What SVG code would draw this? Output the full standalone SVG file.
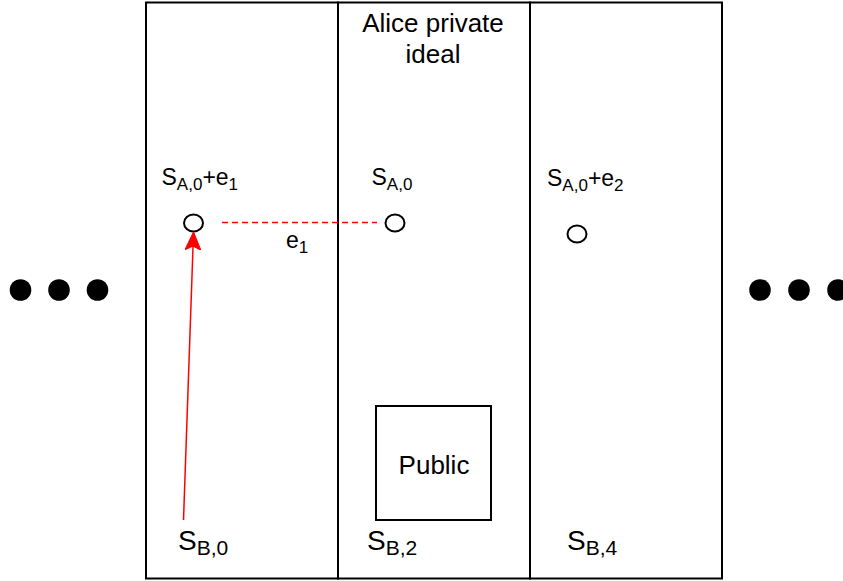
<svg xmlns="http://www.w3.org/2000/svg" width="843" height="581" viewBox="0 0 843 581">
  <defs>
    <style>
      .col { fill: #ffffff; stroke: #000000; stroke-width: 2; }
      .box { fill: #ffffff; stroke: #000000; stroke-width: 2; }
      .node { fill: #ffffff; stroke: #000000; stroke-width: 2; }
      .dot { fill: #000000; }
      text { font-family: "Liberation Sans", Arial, Helvetica, sans-serif; fill: #000000; }
      .lbl { font-size: 23px; }
      .lbl .sub { font-size: 17px; }
      .big { font-size: 28px; }
      .big .sub { font-size: 21px; }
      .title { font-size: 26px; text-anchor: middle; }
      .link { fill: none; stroke: #ff0000; stroke-width: 1.5; }
    </style>
    <marker id="arrowBig" viewBox="0 0 18 16" refX="17" refY="8" markerWidth="18" markerHeight="16" markerUnits="userSpaceOnUse" orient="auto">
      <path d="M0,0 L18,8 L0,16 L4,8 Z" fill="#ff0000" stroke="#ff0000" stroke-width="1"/>
    </marker>
  </defs>

  <!-- three adjacent columns -->
  <g id="col-left"><rect class="col" x="146" y="2.5" width="192" height="576"/></g>
  <g id="col-middle"><rect class="col" x="338" y="2.5" width="192" height="576"/></g>
  <g id="col-right"><rect class="col" x="530" y="2.5" width="192" height="576"/></g>

  <g id="title">
    <text class="title" x="433" y="32">Alice private</text>
    <text class="title" x="433" y="63">ideal</text>
  </g>

  <g id="public">
    <rect class="box" x="376" y="406" width="115" height="114"/>
    <text class="title" x="434" y="474">Public</text>
  </g>

  <!-- ellipsis markers on either side -->
  <g id="dots-left">
    <circle class="dot" cx="20.5" cy="290" r="10.8"/>
    <circle class="dot" cx="59" cy="290" r="10.8"/>
    <circle class="dot" cx="97.5" cy="290" r="10.8"/>
  </g>
  <g id="dots-right">
    <circle class="dot" cx="760" cy="290" r="10.8"/>
    <circle class="dot" cx="799" cy="290" r="10.8"/>
    <circle class="dot" cx="838" cy="290" r="10.8"/>
  </g>

  <!-- points -->
  <g id="p-sa0-e1"><ellipse class="node" cx="193.5" cy="223" rx="9.5" ry="8.5"/></g>
  <g id="p-sa0"><ellipse class="node" cx="395" cy="223" rx="9.5" ry="8.5"/></g>
  <g id="p-sa0-e2"><ellipse class="node" cx="577" cy="234" rx="9.5" ry="8.5"/></g>

  <!-- labels -->
  <g id="labels">
    <text class="lbl" x="161.5" y="185">S<tspan class="sub" dy="5">A,0</tspan><tspan dy="-5">+e</tspan><tspan class="sub" dy="5">1</tspan></text>
    <text class="lbl" x="371.5" y="185">S<tspan class="sub" dy="5">A,0</tspan></text>
    <text class="lbl" x="547" y="186">S<tspan class="sub" dy="5">A,0</tspan><tspan dy="-5">+e</tspan><tspan class="sub" dy="5">2</tspan></text>
    <text class="lbl" x="286" y="248">e<tspan class="sub" dy="5">1</tspan></text>
    <text class="big" x="178" y="550">S<tspan class="sub" dy="5">B,0</tspan></text>
    <text class="big" x="367" y="550">S<tspan class="sub" dy="5">B,2</tspan></text>
    <text class="big" x="567" y="550">S<tspan class="sub" dy="5">B,4</tspan></text>
  </g>

  <!-- connectors -->
  <g id="connectors">
    <line class="link" x1="222" y1="222.5" x2="377" y2="222.5" stroke-dasharray="6 4"/>
    <line class="link" x1="183.5" y1="520" x2="193.5" y2="233" marker-end="url(#arrowBig)"/>
  </g>
</svg>
